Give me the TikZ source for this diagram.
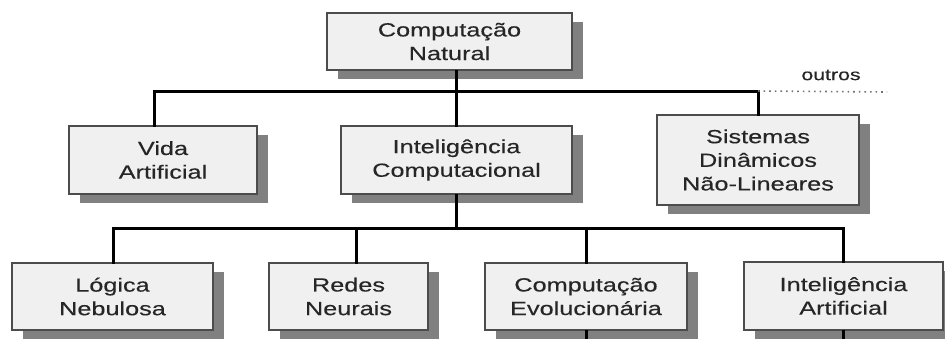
\documentclass[tikz,border=0pt]{standalone}
\usepackage{fontspec}
\setmainfont{Liberation Sans}[FakeStretch=1.33,FakeBold=0.3]
\usetikzlibrary{shadows}

\begin{document}
\begin{tikzpicture}[x=0.5pt,y=-0.5pt,line width=1.5pt,line cap=rect,
  box/.style={draw=black!70,line width=1pt,fill=black!6,text=black!85,align=center,inner sep=0pt,
    font=\fontsize{9.5}{11.8}\selectfont,
    drop shadow={shadow xshift=5.5pt,shadow yshift=-4.5pt,fill=black!50,opacity=1}}]

\useasboundingbox (0,0) rectangle (945,338);

\node[box,minimum width=122.5pt,minimum height=28.5pt](nat) at (449.5,41.5){Computação\\Natural};
\node[box,minimum width=94pt,minimum height=34pt](vida) at (163,160){Vida\\Artificial};
\node[box,minimum width=115.5pt,minimum height=34pt](ic) at (456.5,160){Inteligência\\Computacional};
\node[box,minimum width=101pt,minimum height=45pt](sdnl) at (758,160){Sistemas\\Dinâmicos\\Não-Lineares};
\node[box,minimum width=100.5pt,minimum height=33.5pt](ln) at (112.5,296.5){Lógica\\Nebulosa};
\node[box,minimum width=79.5pt,minimum height=33.5pt](rn) at (348.5,296.5){Redes\\Neurais};
\node[box,minimum width=101pt,minimum height=33.5pt](ce) at (586,296.5){Computação\\Evolucionária};
\node[box,minimum width=99.5pt,minimum height=34pt](ia) at (843.5,296){Inteligência\\Artificial};
\node[text=black!85,font=\fontsize{8}{10}\selectfont](outros) at (831,75){outros};

% barramentos
\coordinate (b1l) at (154,91);
\coordinate (b1r) at (758,91);
\coordinate (b1o) at (887,92);
\coordinate (b2l) at (113,228);
\coordinate (b2r) at (843.5,228);
\coordinate (b2rn) at (356,228);
\coordinate (ceout) at (586,345);
\coordinate (iaout) at (843.5,345);

\draw (nat.south -| ic.north) -- (ic.north)
  (b1l) -- (b1r)
  (b1l) -- (b1l |- vida.north)
  (b1r) -- (sdnl.north);
\draw[dotted,black!55,line width=0.8pt,line cap=butt] (b1r) -- (b1o);

\draw (ic.south) -- (ic.south |- b2l)
  (b2l) -- (b2r)
  (b2l) -- (b2l |- ln.north)
  (b2rn) -- (b2rn |- rn.north)
  (ce.north |- b2l) -- (ce.north)
  (b2r) -- (ia.north)
  (ce.south) -- (ceout)
  (ia.south) -- (iaout);

\end{tikzpicture}
\end{document}
